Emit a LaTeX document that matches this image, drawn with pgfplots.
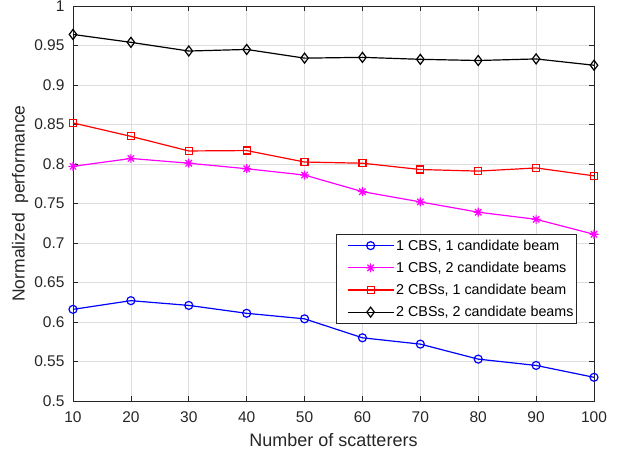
\documentclass[border=0pt]{standalone}
\usepackage{fontspec}
\setmainfont{Liberation Sans}
\usepackage{pgfplots}
\pgfplotsset{compat=1.18}
\definecolor{axgray}{gray}{0.15}
\definecolor{gridgray}{gray}{0.87}
\definecolor{mag}{rgb}{1,0,1}
\pgfdeclareplotmark{mlstar}{%
 \pgfpathmoveto{\pgfqpoint{-\pgfplotmarksize}{0pt}}\pgfpathlineto{\pgfqpoint{\pgfplotmarksize}{0pt}}%
 \pgfpathmoveto{\pgfqpoint{0pt}{-\pgfplotmarksize}}\pgfpathlineto{\pgfqpoint{0pt}{\pgfplotmarksize}}%
 \pgfpathmoveto{\pgfqpoint{-0.707\pgfplotmarksize}{-0.707\pgfplotmarksize}}\pgfpathlineto{\pgfqpoint{0.707\pgfplotmarksize}{0.707\pgfplotmarksize}}%
 \pgfpathmoveto{\pgfqpoint{-0.707\pgfplotmarksize}{0.707\pgfplotmarksize}}\pgfpathlineto{\pgfqpoint{0.707\pgfplotmarksize}{-0.707\pgfplotmarksize}}%
 \pgfusepathqstroke}
\begin{document}
\begin{tikzpicture}
\begin{axis}[
  scale only axis, width=521pt, height=395pt,
  xmin=10, xmax=100, ymin=0.5, ymax=1,
  xtick={10,20,30,40,50,60,70,80,90,100},
  ytick={0.5,0.55,0.6,0.65,0.7,0.75,0.8,0.85,0.9,0.95,1},
  grid=major, grid style={gridgray, line width=0.6pt},
  tick align=inside, major tick length=5pt,
  axis line style={axgray, line width=0.8pt}, tick style={axgray, line width=0.6pt},
  /pgf/number format/assume math mode=true,
  ticklabel style={font=\fontsize{15.5}{15.5}\selectfont, text=axgray},
  yticklabel style={/pgf/number format/fixed, /pgf/number format/precision=2, xshift=-5pt},
  xticklabel style={yshift=-7pt},
  xlabel={Number of scatterers},
  ylabel={Normalized~ performance},
  xlabel style={font=\fontsize{18}{18}\selectfont, text=axgray, at={(axis description cs:0.5,-0.0987)}, anchor=center},
  ylabel style={font=\fontsize{17.5}{17.5}\selectfont, text=axgray, at={(axis description cs:-0.1017,0.5)}, anchor=center},
  legend style={at={(0.967,0.423)}, anchor=north east, draw=axgray, line width=0.6pt,
    font=\fontsize{14.3}{16.5}\selectfont, cells={anchor=west}, inner xsep=1pt, inner ysep=3.5pt, row sep=6.3pt},
  legend cell align=left,
  legend image code/.code={\path (0pt,0pt); \draw[line width=1.2pt, mark repeat=2,mark phase=2,#1] plot coordinates {(10pt,0pt) (33pt,0pt) (56pt,0pt)};},
  every axis plot/.append style={line width=1.2pt},
]
\addplot[color=blue, mark=o, mark size=4pt, mark options={solid}] coordinates {
(10,0.616) (20,0.627) (30,0.621) (40,0.611) (50,0.604) (60,0.580) (70,0.572) (80,0.553) (90,0.545) (100,0.530)};
\addlegendentry{1 CBS, 1 candidate beam}
\addplot[color=mag, mark=mlstar, mark size=4.5pt, mark options={solid}] coordinates {
(10,0.797) (20,0.807) (30,0.801) (40,0.794) (50,0.786) (60,0.765) (70,0.752) (80,0.739) (90,0.730) (100,0.711)};
\addlegendentry{1 CBS, 2 candidate beams}
\addplot[color=red, mark=square, mark size=3.5pt, mark options={solid}] coordinates {
(10,0.852) (20,0.835) (30,0.8165) (40,0.817) (50,0.8025) (60,0.801) (70,0.793) (80,0.791) (90,0.795) (100,0.785)};
\addlegendentry{2 CBSs, 1 candidate beam}
\addplot[color=black, mark=diamond, mark size=5pt, mark options={solid}] coordinates {
(10,0.964) (20,0.954) (30,0.943) (40,0.945) (50,0.934) (60,0.935) (70,0.9325) (80,0.931) (90,0.933) (100,0.925)};
\addlegendentry{2 CBSs, 2 candidate beams}
\end{axis}
\pgfresetboundingbox
\path ([shift={(-73pt,-54pt)}]current axis.south west) rectangle ([shift={(30pt,6pt)}]current axis.north east);
\end{tikzpicture}
\end{document}
